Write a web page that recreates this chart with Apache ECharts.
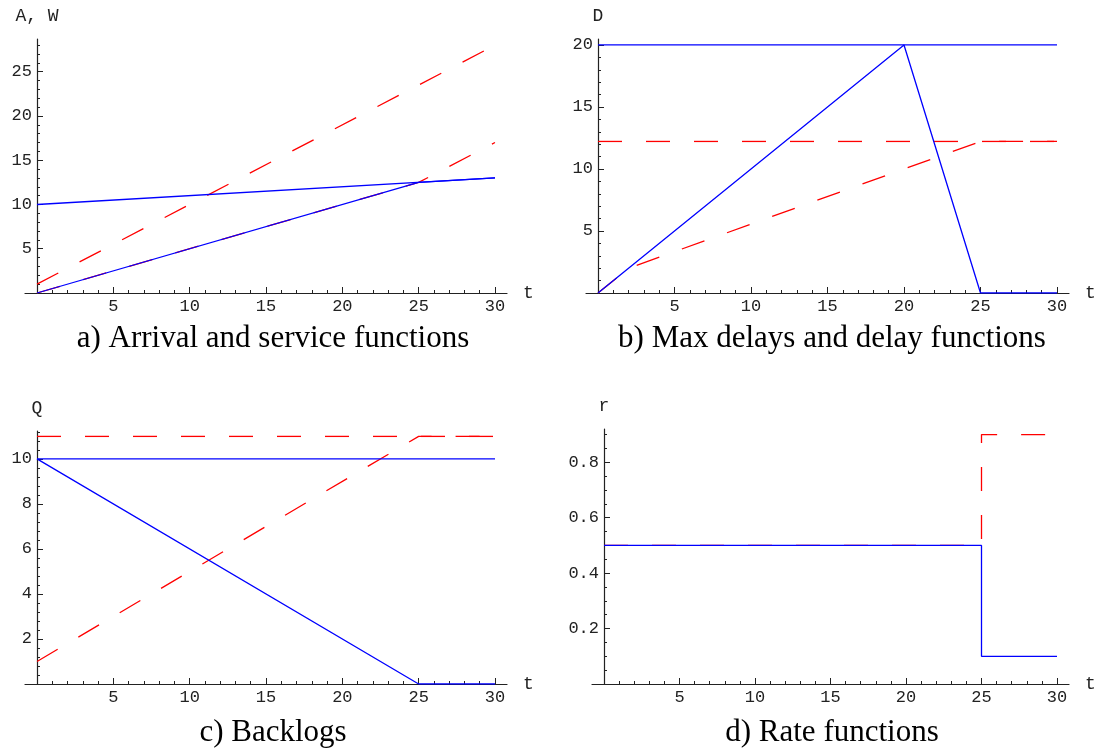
<!DOCTYPE html>
<html>
<head>
<meta charset="utf-8">
<script src="https://cdn.jsdelivr.net/npm/echarts@6/dist/echarts.min.js"></script>
<style>
  html, body { margin: 0; padding: 0; background: #fff; }
  #chart { width: 1104px; height: 748px; }
</style>
</head>
<body>
<div id="chart"></div>
<script>
// a) Arrival and service functions
var arrivalRed1 = [[0, 1], [30, 28]]
var arrivalRed2 = [[0, 0], [25, 12.5], [30, 17]]
var arrivalBlue1 = [[0, 10], [30, 13]]
var arrivalBlue2 = [[0, 0], [25, 12.5], [30, 13]]

// b) Max delays and delay functions
var delayRed1 = [[0, 12.22], [30, 12.22]]
var delayRed2 = [[0, 0], [2, 2], [25, 12.22], [30, 12.22]]
var delayBlue1 = [[0, 20], [30, 20]]
var delayBlue2 = [[0, 0], [20, 20], [25, 0], [30, 0]]

// c) Backlogs
var backlogRed1 = [[0, 11], [30, 11]]
var backlogRed2 = [[0, 1], [25, 11], [30, 11]]
var backlogBlue1 = [[0, 10], [30, 10]]
var backlogBlue2 = [[0, 10], [25, 0], [30, 0]]

// d) Rate functions
var rateRed = [[0, 0.5], [25, 0.5], [25, 0.9], [30, 0.9]]
var rateBlue = [[0, 0.5], [25, 0.5], [25, 0.1], [30, 0.1]]

// tick labels
var tTicks = [5, 10, 15, 20, 25, 30]
var ticksA = [5, 10, 15, 20, 25]
var ticksB = [5, 10, 15, 20]
var ticksC = [2, 4, 6, 8, 10]
var ticksD = [0.2, 0.4, 0.6, 0.8]

var captions = ['a) Arrival and service functions', 'b) Max delays and delay functions', 'c) Backlogs', 'd) Rate functions']

var RED = '#ff0000'
var BLUE = '#0000ff'
var AXIS = '#222'
var MONO = '"Liberation Mono", "DejaVu Sans Mono", monospace'
var SERIF = '"Liberation Serif", "DejaVu Serif", serif'

// minor tick positions between the labelled ones
function minorTicks (max, step, major) {
  var out = []
  for (var i = 1; i * step < max; i++) {
    var v = +(i * step).toFixed(4)
    var r = v / major
    if (Math.abs(r - Math.round(r)) > 1e-6) out.push(v)
  }
  return out
}

var panels = [
  { box: { left: 37, top: 39, width: 458, height: 254 }, yMax: 28.7, yTicks: ticksA, yStep: 1, yMajor: 5, yName: 'A, W',
    red: [arrivalRed1, arrivalRed2], blue: [arrivalBlue1, arrivalBlue2] },
  { box: { left: 598, top: 39, width: 459, height: 254 }, yMax: 20.48, yTicks: ticksB, yStep: 1, yMajor: 5, yName: 'D',
    red: [delayRed1, delayRed2], blue: [delayBlue1, delayBlue2] },
  { box: { left: 37, top: 431, width: 458, height: 253 }, yMax: 11.24, yTicks: ticksC, yStep: 0.4, yMajor: 2, yName: 'Q',
    red: [backlogRed1, backlogRed2], blue: [backlogBlue1, backlogBlue2] },
  { box: { left: 604, top: 429, width: 453, height: 255 }, yMax: 0.92, yTicks: ticksD, yStep: 0.05, yMajor: 0.2, yName: 'r',
    red: [rateRed], blue: [rateBlue] }
]

var grid = []
var xAxis = []
var yAxis = []
var series = []

panels.forEach(function (p) {
  var g = grid.length
  grid.push({ left: p.box.left, top: p.box.top, width: p.box.width, height: p.box.height })
  // slightly longer grid that only carries the t axis line
  grid.push({ left: p.box.left - 12, top: p.box.top, width: p.box.width + 24, height: p.box.height })

  var x0 = xAxis.length
  var y0 = yAxis.length
  xAxis.push({
    gridIndex: g, type: 'value', min: 0, max: 30, position: 'bottom',
    axisLine: { show: false, onZero: false },
    axisTick: { inside: true, length: 6, customValues: tTicks, lineStyle: { color: AXIS } },
    axisLabel: { customValues: tTicks, color: AXIS, fontFamily: MONO, fontSize: 17, margin: 5 },
    splitLine: { show: false },
    name: 't', nameLocation: 'end', nameGap: 28,
    nameTextStyle: { color: AXIS, fontFamily: MONO, fontSize: 18 }
  })
  xAxis.push({
    gridIndex: g, type: 'value', min: 0, max: 30, position: 'bottom',
    axisLine: { show: false, onZero: false },
    axisTick: { inside: true, length: 3, customValues: minorTicks(30, 1, 5), lineStyle: { color: AXIS } },
    axisLabel: { show: false },
    splitLine: { show: false }
  })
  xAxis.push({
    gridIndex: g + 1, type: 'value', min: 0, max: 1, position: 'bottom',
    axisLine: { show: true, onZero: false, lineStyle: { color: AXIS, width: 1.2 } },
    axisTick: { show: false },
    axisLabel: { show: false },
    splitLine: { show: false }
  })

  yAxis.push({
    gridIndex: g, type: 'value', min: 0, max: p.yMax, position: 'left',
    axisLine: { show: true, onZero: false, lineStyle: { color: AXIS, width: 1.2 } },
    axisTick: { inside: true, length: 6, customValues: p.yTicks, lineStyle: { color: AXIS } },
    axisLabel: { customValues: p.yTicks, color: AXIS, fontFamily: MONO, fontSize: 17, margin: 5 },
    splitLine: { show: false },
    name: p.yName, nameLocation: 'end', nameGap: 14,
    nameTextStyle: { color: AXIS, fontFamily: MONO, fontSize: 18 }
  })
  yAxis.push({
    gridIndex: g, type: 'value', min: 0, max: p.yMax, position: 'left',
    axisLine: { show: false, onZero: false },
    axisTick: { inside: true, length: 3, customValues: minorTicks(p.yMax, p.yStep, p.yMajor), lineStyle: { color: AXIS } },
    axisLabel: { show: false },
    splitLine: { show: false }
  })
  yAxis.push({ gridIndex: g + 1, type: 'value', min: 0, max: 1, show: false })

  p.red.forEach(function (d) {
    series.push({
      type: 'line', xAxisIndex: x0, yAxisIndex: y0, data: d, symbol: 'none', silent: true,
      lineStyle: { color: RED, width: 1.3, type: [24, 24] }
    })
  })
  p.blue.forEach(function (d) {
    series.push({
      type: 'line', xAxisIndex: x0, yAxisIndex: y0, data: d, symbol: 'none', silent: true,
      lineStyle: { color: BLUE, width: 1.3 }
    })
  })
})

var capPos = [[273, 339], [832, 339], [273, 733], [832, 733]]
var graphic = captions.map(function (c, i) {
  return {
    type: 'text', x: capPos[i][0], y: capPos[i][1],
    style: { text: c, fill: '#000', font: '31px ' + SERIF, textAlign: 'center', textVerticalAlign: 'middle' }
  }
})

var option = {
  animation: false,
  backgroundColor: '#fff',
  grid: grid,
  xAxis: xAxis,
  yAxis: yAxis,
  series: series,
  graphic: graphic
}

var myChart = echarts.init(document.getElementById('chart'))
myChart.setOption(option)
</script>
</body>
</html>
